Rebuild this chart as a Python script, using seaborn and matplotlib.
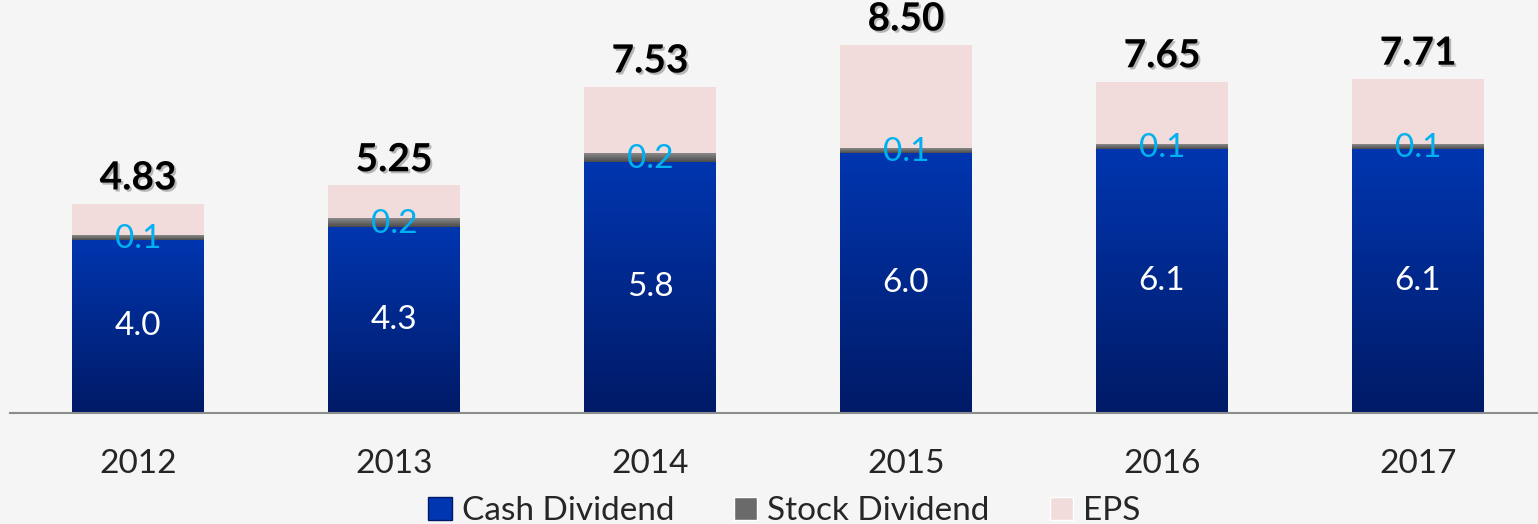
import numpy as np
import pandas as pd
import matplotlib.pyplot as plt
import matplotlib.patheffects as pe
from matplotlib.colors import LinearSegmentedColormap
from matplotlib.patches import Patch
import seaborn as sns

# ---------------------------------------------------
# Data
# ---------------------------------------------------
years = ["2012", "2013", "2014", "2015", "2016", "2017"]
cash_div = [4.0, 4.3, 5.8, 6.0, 6.1, 6.1]
stock_div = [0.1, 0.2, 0.2, 0.1, 0.1, 0.1]
eps = [4.83, 5.25, 7.53, 8.50, 7.65, 7.71]

df = pd.DataFrame({"year": years, "cash": cash_div, "stock": stock_div, "eps": eps})
df["cash_stock"] = df["cash"] + df["stock"]
df["eps_rest"] = df["eps"] - df["cash_stock"]

sns.set_style("white")
plt.rcParams["font.family"] = ["Lato", "DejaVu Sans"]

BG = "#f5f5f5"
PINK = "#f2dcdb"
BLUE_TOP, BLUE_BOT = "#0036b0", "#001a66"
GRAY_TOP, GRAY_BOT = "#8a8a8a", "#4a4a4a"

fig = plt.figure(figsize=(15.38, 5.24), dpi=100, facecolor=BG)
ax = fig.add_axes([0.0065, 0.212, 0.9987, 0.744])
ax.set_facecolor(BG)

W = 0.515
sns.barplot(data=df, x="year", y="cash", color=BLUE_TOP, width=W, ax=ax,
            linewidth=0, saturation=1)
sns.barplot(data=df, x="year", y="stock", bottom=df["cash"], color=GRAY_TOP,
            width=W, ax=ax, linewidth=0, saturation=1)
sns.barplot(data=df, x="year", y="eps_rest", bottom=df["cash_stock"], color=PINK,
            width=W, ax=ax, linewidth=0, saturation=1)

# gradient fills on the blue and gray segments
grad = np.linspace(0, 1, 256).reshape(-1, 1)
blue_cmap = LinearSegmentedColormap.from_list("b", [BLUE_BOT, BLUE_TOP])
gray_cmap = LinearSegmentedColormap.from_list("g", [GRAY_BOT, GRAY_TOP])
for cont, cmap in [(ax.containers[0], blue_cmap), (ax.containers[1], gray_cmap)]:
    for p in cont.patches:
        x0, y0 = p.get_x(), p.get_y()
        ax.imshow(grad, extent=(x0, x0 + p.get_width(), y0, y0 + p.get_height()),
                  origin="lower", cmap=cmap, aspect="auto", zorder=p.get_zorder() + 0.1)

ax.set_xlim(-0.5, 5.5)
ax.set_ylim(0, 9)

# ---------------------------------------------------
# Labels
# ---------------------------------------------------
for i in range(len(years)):
    ax.text(i, cash_div[i] / 2, f"{cash_div[i]:.1f}", ha="center", va="center",
            color="white", fontsize=24, zorder=5)
    ax.text(i, cash_div[i] + stock_div[i] / 2 - 0.03, f"{stock_div[i]:.1f}", ha="center",
            va="center", color="#00b0f0", fontsize=24, zorder=5)
    ax.text(i, eps[i] + 0.19, f"{eps[i]:.2f}", ha="center", va="bottom",
            color="black", fontsize=28, fontweight="bold", zorder=5,
            path_effects=[pe.withSimplePatchShadow(offset=(1.5, -1.5),
                                                   shadow_rgbFace="#777777", alpha=0.5)])

ax.set_xlabel("")
ax.set_ylabel("")
ax.set_yticks([])
ax.tick_params(axis="x", length=0, labelsize=24, pad=26)
for s in ["top", "right", "left"]:
    ax.spines[s].set_visible(False)
ax.spines["bottom"].set_color("#8c8c8c")
ax.spines["bottom"].set_linewidth(1.5)

handles = [Patch(facecolor=BLUE_TOP, edgecolor=BLUE_BOT, label="Cash Dividend"),
           Patch(facecolor="#6a6a6a", label="Stock Dividend"),
           Patch(facecolor=PINK, label="EPS")]
fig.legend(handles=handles, loc="lower center", bbox_to_anchor=(0.51, -0.062),
           ncol=3, frameon=False, fontsize=24, handlelength=0.7, handleheight=0.7,
           handletextpad=0.3, columnspacing=1.8)

fig.savefig("out.png", dpi=100, facecolor=BG)
